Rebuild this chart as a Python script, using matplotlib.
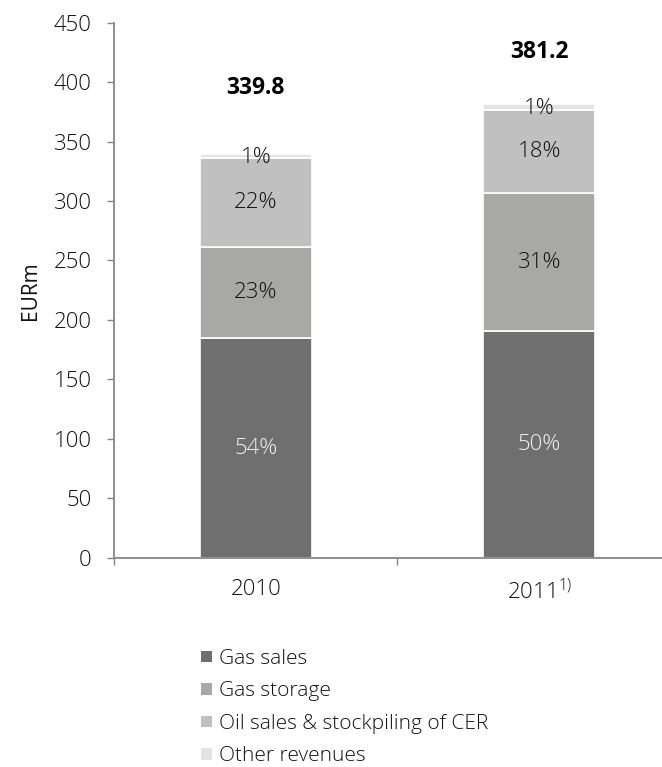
import matplotlib
matplotlib.use('Agg')
import matplotlib.pyplot as plt
from matplotlib.patches import Patch
import numpy as np

plt.rcParams['font.family'] = ['Open Sans', 'DejaVu Sans']
plt.rcParams['font.weight'] = 'light'

# data (EURm)
years = ['2010', '2011$^{\\mathregular{1)}}$']
gas_sales = [184.5, 190.4]
gas_storage = [77.0, 116.5]
oil_sales = [74.5, 70.0]
other_rev = [3.8, 4.3]
totals = ['339.8', '381.2']
total_label_y = [395, 425]

series_names = ['Gas sales', 'Gas storage', 'Oil sales & stockpiling of CER', 'Other revenues']
series = [gas_sales, gas_storage, oil_sales, other_rev]
shares = [['54%', '50%'], ['23%', '31%'], ['22%', '18%'], ['1%', '1%']]
colors = ['#6f6f6f', '#a8a8a6', '#c0c0c0', '#e4e4e4']
text_colors = ['#f2f2f2', '#111111', '#111111', '#111111']

fig = plt.figure(figsize=(6.62, 7.67), dpi=100)
ax = fig.add_axes([0.1722, 0.2729, 0.8278, 0.6975])

x = np.arange(len(years))
bottom = np.zeros(len(years))
for vals, col, tcol, lab in zip(series, colors, text_colors, shares):
    vals = np.array(vals)
    ax.bar(x, vals, width=0.394, bottom=bottom, color=col, edgecolor='white', linewidth=1.2)
    for i in range(len(x)):
        yc = bottom[i] + vals[i] / 2
        if vals[i] < 10:
            # small slice: label sits on the boundary
            yc = bottom[i] + 1
        ax.text(x[i], yc, lab[i], ha='center', va='center', fontsize=16, color=tcol)
    bottom += vals

for i in range(len(x)):
    ax.text(x[i], total_label_y[i], totals[i], ha='center', va='center', fontsize=16.5,
            fontweight='bold', color='black')

ax.set_xlim(-0.5, 1.433)
ax.set_ylim(0, 450)
ax.set_yticks(np.arange(0, 451, 50))
ax.set_xticks(x)
ax.set_xticklabels(years)
ax.set_xticks([-0.5, 0.5], minor=True)
ax.tick_params(axis='x', which='major', length=0, pad=15, labelsize=16, colors='#111111')
ax.tick_params(axis='x', which='minor', length=5, color='#868686', width=1)
ax.tick_params(axis='y', length=5, color='#868686', width=1, labelsize=16, labelcolor='#111111', pad=11)
ax.set_ylabel('EURm', fontsize=15, color='#111111')
ax.yaxis.set_label_coords(-0.134, 0.5)

for s in ['top', 'right']:
    ax.spines[s].set_visible(False)
for s in ['left', 'bottom']:
    ax.spines[s].set_color('#868686')
    ax.spines[s].set_linewidth(1.3)

handles = [Patch(facecolor=c, edgecolor='none', label=n) for c, n in zip(colors, series_names)]
fig.legend(handles=handles, loc='upper left', bbox_to_anchor=(0.3036, 0.154), frameon=False,
           fontsize=15, handlelength=0.55, handleheight=0.5, handletextpad=0.3,
           labelspacing=0.6, borderaxespad=0, borderpad=0, labelcolor='#111111')

plt.savefig('out.png', dpi=100)
